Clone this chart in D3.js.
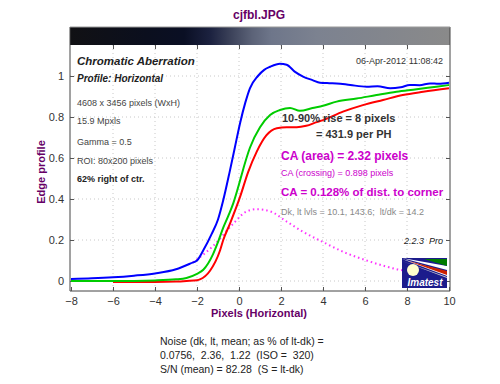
<!DOCTYPE html>
<html><head><meta charset="utf-8">
<script src="https://cdn.jsdelivr.net/npm/d3@7"></script>
<style>body{margin:0;background:#fff}svg{display:block;font-family:"Liberation Sans",Arial,sans-serif}text{white-space:pre}</style>
</head><body><svg id="c" width="500" height="384"></svg>
<script>
const xTicks = [-8,-6,-4,-2,0,2,4,6,8,10];
const yTicks = [0,0.2,0.4,0.6,0.8,1];
const blueX = [-8,-7,-6,-5,-4,-3,-2.3,-2,-1.7,-1.3,-1,-0.76,-0.45,-0.2,0.05,0.3,0.52,0.9,1.2,1.48,1.95,2.27,2.67,3.05,3.5,3.86,4.3,4.65,5.3,6.08,6.6,7.2,7.7,8.14,8.6,9.1,9.5,10];
const blueY = [0.01,0.013,0.018,0.026,0.037,0.057,0.086,0.10,0.15,0.23,0.30,0.39,0.53,0.65,0.77,0.87,0.94,1.0,1.03,1.045,1.06,1.055,1.02,0.997,0.98,0.967,0.965,0.964,0.956,0.948,0.95,0.94,0.945,0.956,0.955,0.964,0.962,0.967];
const greenX = [-8,-6,-4,-3,-2.5,-2,-1.7,-1.24,-1.0,-0.75,-0.5,-0.27,0.05,0.13,0.52,1.0,1.48,1.95,2.43,2.9,3.5,4.0,4.65,5.6,6.55,7.5,8.46,9.4,10];
const greenY = [0.0,0.0,0.003,0.008,0.015,0.035,0.055,0.13,0.19,0.26,0.32,0.38,0.49,0.52,0.65,0.75,0.81,0.834,0.844,0.83,0.844,0.855,0.875,0.89,0.907,0.923,0.935,0.948,0.956];
const redX = [-6,-4,-3,-2.5,-2,-1.86,-1.38,-0.9,-0.75,-0.43,0.05,0.43,0.84,1.3,1.8,2.27,2.75,3.2,3.7,4,4.95,5.9,6.86,7.8,8.77,10];
const redY = [-0.005,-0.005,-0.003,0.0,0.004,0.008,0.05,0.15,0.2,0.28,0.41,0.53,0.63,0.71,0.745,0.75,0.75,0.757,0.775,0.785,0.826,0.858,0.883,0.907,0.923,0.94];
const caX = [-2.2,-1.24,-0.27,0.37,0.84,1.48,2.27,3.05,4.0,5.13,6.08,7.03,7.67,8.0];
const caY = [0.09,0.17,0.28,0.34,0.35,0.34,0.29,0.24,0.19,0.135,0.10,0.07,0.054,0.05];
const infoLines = ["4608 x 3456 pixels (WxH)","15.9 Mpxls","Gamma = 0.5","ROI: 80x200 pixels"];
const noiseLines = ["Noise (dk, lt, mean; as % of lt-dk) =","0.0756,  2.36,  1.22  (ISO =  320)","S/N (mean) = 82.28  (S = lt-dk)"];

const svg = d3.select("#c");
const L=70,R=450,T=27,B=291;
const x = d3.scaleLinear().domain([-8,10]).range([71,449]);
const y = d3.scaleLinear().domain([0,1]).range([281,76]);
const purple="#660066";

svg.append("text").attr("x",259).attr("y",19).attr("text-anchor","middle").attr("font-size",12).attr("font-weight","bold").attr("fill",purple).text("cjfbl.JPG");

const defs = svg.append("defs");
const g = defs.append("linearGradient").attr("id","bar");
[[0,"#111114"],[0.2,"#0b0f1e"],[0.3,"#0a0f24"],[0.37,"#1c2240"],[0.42,"#3a4058"],[0.48,"#5c6378"],[0.53,"#6e768a"],[0.65,"#7c8290"],[1,"#8a8a8a"]].forEach(s=>g.append("stop").attr("offset",s[0]).attr("stop-color",s[1]));
svg.append("rect").attr("x",L).attr("y",T).attr("width",R-L).attr("height",18).attr("fill","url(#bar)");

svg.append("g").selectAll("line").data(xTicks.slice(1,-1)).join("line")
 .attr("x1",d=>x(d)).attr("x2",d=>x(d)).attr("y1",45).attr("y2",B)
 .attr("stroke","#c8c8c8").attr("stroke-dasharray","1,3");
svg.append("g").selectAll("line").data(yTicks).join("line")
 .attr("x1",L).attr("x2",R).attr("y1",d=>y(d)).attr("y2",d=>y(d))
 .attr("stroke","#c8c8c8").attr("stroke-dasharray","1,3");

svg.append("path").attr("d",`M${L},${T}V${B}H${R}V${T}`).attr("fill","none").attr("stroke","#444").attr("stroke-width",1);
svg.append("line").attr("x1",L).attr("x2",R).attr("y1",T).attr("y2",T).attr("stroke","#999");

const xa = svg.append("g").attr("transform",`translate(0,${B})`).call(d3.axisBottom(x).tickValues(xTicks).tickSize(-4).tickPadding(6).tickFormat(d3.format("d")));
const ya = svg.append("g").attr("transform",`translate(${L},0)`).call(d3.axisLeft(y).tickValues(yTicks).tickSize(-4).tickPadding(6).tickFormat(d=>d===0?"0":d===1?"1":d3.format(".1f")(d)));
const yr = svg.append("g").attr("transform",`translate(${R},0)`).call(d3.axisRight(y).tickValues(yTicks).tickSize(-4).tickFormat(""));
const xt = svg.append("g").attr("transform",`translate(0,45)`).call(d3.axisTop(x).tickValues(xTicks.slice(1,-1)).tickSize(-4).tickFormat(""));
[xa,ya,yr,xt].forEach(a=>{a.select(".domain").remove();a.selectAll("line").attr("stroke","#555");a.selectAll("text").attr("font-size",11).attr("fill","#333").attr("font-family","Liberation Sans, Arial, sans-serif");});

svg.append("text").attr("x",259).attr("y",317).attr("text-anchor","middle").attr("font-size",11).attr("font-weight","bold").attr("fill",purple).text("Pixels (Horizontal)");
svg.append("text").attr("transform","translate(45,172) rotate(-90)").attr("text-anchor","middle").attr("font-size",11).attr("font-weight","bold").attr("fill",purple).text("Edge profile");

const line = d3.line().x(d=>x(d[0])).y(d=>y(d[1])).curve(d3.curveMonotoneX);
const pl = svg.append("g");
pl.append("path").datum(d3.zip(caX,caY)).attr("d",line).attr("fill","none").attr("stroke","#ff33ff").attr("stroke-width",2).attr("stroke-dasharray","1.5,3");
pl.append("path").datum(d3.zip(redX,redY)).attr("d",line).attr("fill","none").attr("stroke","#ff0000").attr("stroke-width",2);
pl.append("path").datum(d3.zip(greenX,greenY)).attr("d",line).attr("fill","none").attr("stroke","#00cc00").attr("stroke-width",2);
pl.append("path").datum(d3.zip(blueX,blueY)).attr("d",line).attr("fill","none").attr("stroke","#0000ff").attr("stroke-width",2);

const t = svg.append("g").attr("fill","#333");
t.append("text").attr("x",77).attr("y",65).attr("font-size",11.5).attr("font-weight","bold").attr("font-style","italic").attr("fill","#222").text("Chromatic Aberration");
t.append("text").attr("x",77).attr("y",82).attr("font-size",10).attr("font-weight","bold").attr("font-style","italic").attr("fill","#222").text("Profile: Horizontal");
infoLines.forEach((s,i)=>t.append("text").attr("x",77).attr("y",[106,124,145,164][i]).attr("font-size",9).attr("fill","#444").text(s));
t.append("text").attr("x",77).attr("y",182).attr("font-size",9).attr("font-weight","bold").attr("fill","#222").text("62% right of ctr.");
t.append("text").attr("x",443).attr("y",64).attr("text-anchor","end").attr("font-size",9).attr("fill","#333").text("06-Apr-2012 11:08:42");

svg.append("text").attr("x",282).attr("y",122).attr("font-size",11).attr("font-weight","bold").attr("fill","#333").text("10-90% rise = 8 pixels");
svg.append("text").attr("x",316).attr("y",138).attr("font-size",11).attr("font-weight","bold").attr("fill","#333").text("= 431.9 per PH");
svg.append("text").attr("x",281).attr("y",160).attr("font-size",12).attr("font-weight","bold").attr("fill","#cc00cc").text("CA (area) = 2.32 pixels");
svg.append("text").attr("x",281).attr("y",176).attr("font-size",9).attr("fill","#cc00cc").text("CA (crossing) = 0.898 pixels");
svg.append("text").attr("x",281).attr("y",196).attr("font-size",11.5).attr("font-weight","bold").attr("fill","#cc00cc").text("CA = 0.128% of dist. to corner");
svg.append("text").attr("x",281).attr("y",215).attr("font-size",9).attr("fill","#888").text("Dk, lt lvls = 10.1, 143.6;  lt/dk = 14.2");
svg.append("text").attr("x",443).attr("y",244).attr("text-anchor","end").attr("font-size",9).attr("font-style","italic").attr("fill","#222").text("2.2.3  Pro");

const lg = svg.append("g").attr("transform","translate(402,258)");
lg.append("rect").attr("width",45).attr("height",30).attr("fill","#1c1c8c");
lg.append("path").attr("d","M0,0L45,8V12Z").attr("fill","#fff");
lg.append("path").attr("d","M22,1L45,1V8Z").attr("fill","#007a00");
lg.append("path").attr("d","M0,1L45,14V18Z").attr("fill","#fff");
lg.append("path").attr("d","M6,3L45,13V17Z").attr("fill","#cc2200");
lg.append("path").attr("d","M0,3L45,19V20Z").attr("fill","#ccc");
lg.append("circle").attr("cx",11).attr("cy",12).attr("r",6).attr("fill","#ffffcc");
lg.append("text").attr("x",23).attr("y",28).attr("text-anchor","middle").attr("font-size",10).attr("font-weight","bold").attr("font-style","italic").attr("fill","#fff").text("Imatest");

noiseLines.forEach((s,i)=>svg.append("text").attr("x",160).attr("y",345+i*14).attr("font-size",10.5).attr("fill","#222").text(s));
</script></body></html>
